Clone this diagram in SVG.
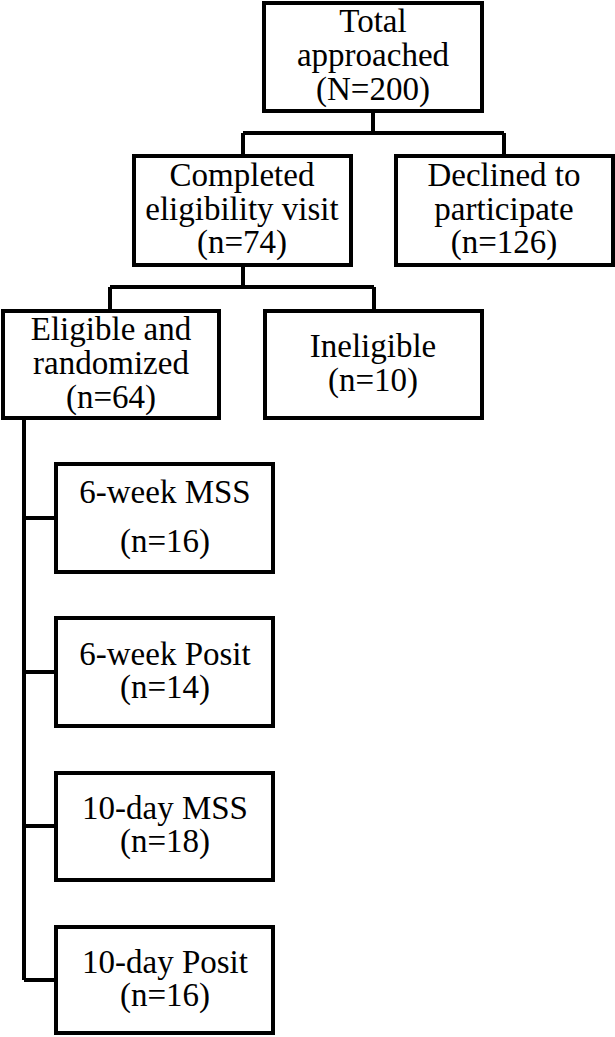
<svg xmlns="http://www.w3.org/2000/svg" width="615" height="1037" viewBox="0 0 615 1037">
<style>
.box{fill:#fff;stroke:#000;stroke-width:4}
.conn{fill:none;stroke:#000;stroke-width:4}
text{font-family:"Liberation Serif","Times New Roman",serif;font-size:33px;fill:#000;text-anchor:middle}
</style>
<rect width="615" height="1037" fill="#fff"/>
<g id="connectors">
<path class="conn" d="M373,111 V133 M243,133 H504 M243,133 V156 M504,133 V156"/>
<path class="conn" d="M243,265 V287 M110,287 H374 M110,287 V311 M374,287 V311"/>
<path class="conn" d="M24,418 V980 M24,518 H56 M24,672 H56 M24,826 H56 M24,980 H56"/>
</g>
<g id="n-total">
<rect class="box" x="264" y="3" width="218" height="108"/>
<text x="373" y="32">Total</text>
<text x="373" y="66">approached</text>
<text x="373" y="100">(N=200)</text>
</g>
<g id="n-completed">
<rect class="box" x="134" y="156" width="217" height="109"/>
<text x="242" y="186">Completed</text>
<text x="242" y="220">eligibility visit</text>
<text x="242" y="253">(n=74)</text>
</g>
<g id="n-declined">
<rect class="box" x="396" y="156" width="217" height="109"/>
<text x="504" y="186">Declined to</text>
<text x="504" y="220">participate</text>
<text x="504" y="253">(n=126)</text>
</g>
<g id="n-eligible">
<rect class="box" x="3" y="311" width="216" height="107"/>
<text x="111" y="340">Eligible and</text>
<text x="111" y="374">randomized</text>
<text x="111" y="408">(n=64)</text>
</g>
<g id="n-ineligible">
<rect class="box" x="265" y="311" width="217" height="107"/>
<text x="373" y="357">Ineligible</text>
<text x="373" y="391">(n=10)</text>
</g>
<g id="n-6wmss">
<rect class="box" x="56" y="464" width="217" height="108"/>
<text x="165" y="503">6-week MSS</text>
<text x="165" y="552">(n=16)</text>
</g>
<g id="n-6wposit">
<rect class="box" x="56" y="618" width="217" height="108"/>
<text x="165" y="665">6-week Posit</text>
<text x="165" y="698">(n=14)</text>
</g>
<g id="n-10dmss">
<rect class="box" x="56" y="773" width="217" height="107"/>
<text x="165" y="819">10-day MSS</text>
<text x="165" y="852">(n=18)</text>
</g>
<g id="n-10dposit">
<rect class="box" x="56" y="927" width="217" height="106"/>
<text x="165" y="973">10-day Posit</text>
<text x="165" y="1006">(n=16)</text>
</g>
</svg>
